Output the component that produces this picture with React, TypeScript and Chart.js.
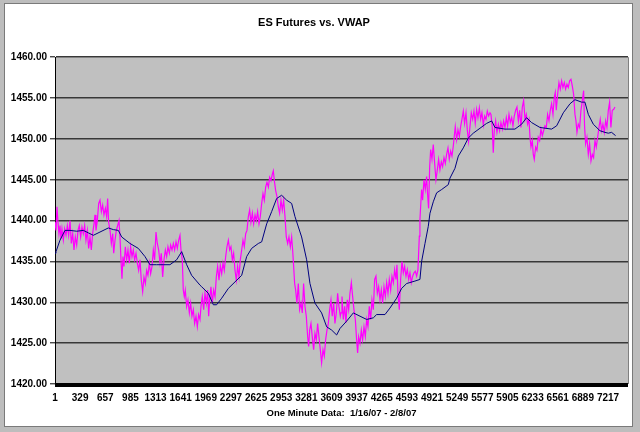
import React, { useEffect, useRef } from "react";
import { Chart, registerables } from "chart.js";

Chart.register(...registerables);

const chartTitle = "ES Futures vs. VWAP";
const xAxisTitle = "One Minute Data:  1/16/07 - 2/8/07";

// x tick labels (minute index)
const xTickValues = [1, 329, 657, 985, 1313, 1641, 1969, 2297, 2625, 2953, 3281, 3609, 3937, 4265, 4593, 4921, 5249, 5577, 5905, 6233, 6561, 6889, 7217];
const xMin = 1;
const xMax = 7478;
const yMin = 1420;
const yMax = 1460;
const yStep = 5;

// ES futures price: [minute, price]
const esFutures: [number, number][] = [
  [1, 1439.8], [14, 1438.8], [27, 1441.7], [40, 1439.8], [53, 1438.4], [66, 1439.4], [79, 1437.8], [92, 1439.0],
  [110, 1437.6], [127, 1439.0], [145, 1438.2], [162, 1439.4], [179, 1438.2], [197, 1440.0], [214, 1437.2],
  [232, 1438.4], [249, 1436.4], [266, 1438.0], [284, 1437.0], [301, 1438.8], [318, 1439.4], [336, 1438.0],
  [353, 1439.2], [371, 1438.4], [388, 1439.4], [405, 1437.6], [423, 1438.8], [440, 1436.6], [458, 1438.0],
  [475, 1436.4], [492, 1438.4], [510, 1439.6], [523, 1440.7], [536, 1438.8], [553, 1440.0], [571, 1442.1],
  [588, 1442.5], [606, 1441.1], [623, 1441.9], [640, 1440.7], [658, 1441.5], [675, 1440.5], [688, 1442.7],
  [701, 1439.8], [719, 1438.8], [736, 1437.2], [754, 1438.4], [767, 1436.0], [784, 1437.6], [801, 1438.8],
  [819, 1439.4], [836, 1440.0], [849, 1438.0], [862, 1435.2], [875, 1432.9], [888, 1435.6], [901, 1434.4],
  [919, 1436.8], [936, 1435.2], [953, 1436.4], [971, 1434.8], [988, 1436.8], [1006, 1435.6], [1023, 1436.4],
  [1040, 1435.2], [1058, 1436.0], [1075, 1434.8], [1093, 1433.9], [1110, 1435.2], [1127, 1432.7], [1145, 1431.3],
  [1162, 1433.1], [1180, 1432.3], [1197, 1433.9], [1214, 1433.3], [1232, 1434.8], [1249, 1433.5], [1267, 1434.4],
  [1284, 1436.4], [1301, 1435.2], [1319, 1438.6], [1336, 1437.2], [1354, 1436.4], [1371, 1434.8], [1388, 1436.0],
  [1406, 1433.1], [1423, 1435.2], [1441, 1436.4], [1458, 1435.6], [1475, 1436.8], [1493, 1436.0], [1510, 1437.0],
  [1528, 1436.4], [1545, 1437.2], [1562, 1436.4], [1580, 1437.4], [1597, 1436.6], [1615, 1437.6], [1632, 1438.2],
  [1645, 1436.4], [1662, 1435.2], [1675, 1431.5], [1688, 1430.7], [1701, 1431.5], [1719, 1429.5], [1736, 1430.3],
  [1754, 1428.7], [1771, 1429.9], [1788, 1428.3], [1806, 1429.1], [1823, 1427.4], [1841, 1428.3], [1858, 1427.0],
  [1875, 1428.5], [1893, 1427.9],
  [1906, 1429.5], [1923, 1430.7], [1941, 1429.1], [1958, 1431.1], [1976, 1429.9], [1993, 1431.5], [2006, 1428.3],
  [2019, 1430.3], [2036, 1431.9], [2054, 1429.9], [2071, 1431.5], [2089, 1430.7], [2106, 1433.1], [2123, 1434.4],
  [2141, 1432.7], [2158, 1434.5], [2176, 1433.5], [2193, 1434.8], [2210, 1433.9], [2228, 1435.6], [2245, 1436.8],
  [2263, 1437.6], [2280, 1436.4], [2297, 1436.8], [2315, 1435.2], [2332, 1436.0], [2350, 1433.9], [2367, 1432.7],
  [2384, 1434.4], [2402, 1433.1], [2419, 1435.2], [2437, 1436.4], [2454, 1437.6], [2471, 1436.8], [2489, 1438.4],
  [2506, 1438.8], [2524, 1440.5], [2541, 1441.3], [2558, 1439.8], [2576, 1440.9], [2593, 1439.6], [2611, 1440.7],
  [2628, 1440.0], [2645, 1441.1], [2663, 1439.6], [2680, 1440.5], [2698, 1442.1], [2715, 1443.3], [2732, 1442.5],
  [2750, 1444.1], [2767, 1444.7], [2785, 1444.1], [2802, 1445.3], [2819, 1444.9], [2837, 1445.7], [2850, 1446.1],
  [2863, 1444.9], [2880, 1443.7], [2898, 1442.9], [2915, 1441.7], [2932, 1440.9], [2950, 1442.5], [2967, 1441.3],
  [2985, 1442.5], [3002, 1440.5], [3019, 1438.0], [3037, 1437.2], [3054, 1438.0], [3072, 1436.8], [3089, 1438.0],
  [3102, 1436.4], [3115, 1434.4], [3128, 1432.3], [3141, 1431.5], [3158, 1429.9], [3176, 1432.3], [3193, 1429.1],
  [3211, 1429.9], [3228, 1428.7], [3245, 1432.3], [3263, 1429.5], [3280, 1428.3], [3298, 1425.8], [3311, 1424.6],
  [3324, 1426.6], [3341, 1427.4], [3358, 1425.8], [3376, 1424.2], [3393, 1426.2], [3411, 1425.4], [3428, 1427.4],
  [3445, 1425.8], [3463, 1424.2], [3480, 1422.6], [3498, 1424.2], [3515, 1423.4], [3532, 1425.4], [3550, 1426.6],
  [3567, 1427.4], [3585, 1429.1], [3602, 1430.3], [3619, 1428.3], [3637, 1429.9], [3654, 1427.4], [3672, 1428.7],
  [3689, 1431.1], [3706, 1429.5], [3724, 1428.3],
  [3733, 1428.7], [3746, 1430.7], [3763, 1427.9], [3781, 1429.5], [3798, 1427.5], [3815, 1430.3], [3833, 1429.1],
  [3850, 1431.1], [3868, 1432.4], [3885, 1430.7], [3902, 1429.1], [3920, 1427.9], [3937, 1425.4], [3950, 1423.8],
  [3963, 1425.8], [3981, 1425.0], [3998, 1426.6], [4015, 1425.4], [4033, 1427.0], [4050, 1425.8], [4068, 1427.9],
  [4085, 1427.0], [4102, 1429.5], [4120, 1427.9], [4137, 1430.3], [4155, 1429.1], [4172, 1432.8], [4189, 1433.2],
  [4207, 1431.1], [4224, 1431.9], [4242, 1430.3], [4259, 1431.5], [4276, 1429.9], [4294, 1431.9], [4311, 1430.7],
  [4329, 1432.4], [4346, 1431.1], [4363, 1432.8], [4381, 1431.5], [4398, 1433.2], [4416, 1432.4], [4433, 1434.0],
  [4450, 1432.8], [4463, 1434.6], [4476, 1431.1], [4494, 1429.1], [4511, 1432.8], [4529, 1435.0], [4546, 1433.6],
  [4563, 1434.4], [4581, 1433.2], [4598, 1434.0], [4616, 1432.8], [4633, 1433.6], [4650, 1432.4], [4668, 1433.2],
  [4685, 1433.6], [4703, 1433.8], [4720, 1433.2], [4737, 1434.0], [4755, 1438.1], [4763, 1440.1], [4772, 1441.7],
  [4785, 1443.8], [4798, 1442.5], [4816, 1445.0], [4833, 1443.8], [4850, 1445.4], [4863, 1443.2], [4876, 1441.5],
  [4890, 1446.6], [4903, 1448.7], [4920, 1447.5], [4937, 1449.3], [4955, 1447.0], [4972, 1445.0], [4990, 1446.2],
  [5007, 1447.5], [5024, 1446.2], [5042, 1447.2], [5059, 1446.6], [5077, 1447.7], [5094, 1447.0], [5111, 1448.1],
  [5129, 1448.9], [5146, 1447.5], [5164, 1448.5], [5181, 1447.9], [5198, 1449.1], [5211, 1450.3], [5224, 1451.5],
  [5242, 1449.9], [5259, 1451.1], [5277, 1450.3], [5294, 1451.5], [5311, 1452.4], [5329, 1453.4], [5346, 1451.9],
  [5364, 1453.2], [5381, 1451.1], [5398, 1449.7], [5416, 1451.5], [5433, 1453.2], [5451, 1452.4], [5468, 1453.4],
  [5485, 1451.9], [5503, 1453.6], [5520, 1452.6], [5538, 1453.8], [5555, 1452.4], [5572, 1453.2], [5590, 1451.7],
  [5607, 1452.8], [5625, 1452.4], [5642, 1453.4], [5659, 1452.8], [5677, 1453.2],
  [5690, 1453.0], [5707, 1451.4], [5720, 1448.3], [5733, 1451.0], [5751, 1452.2], [5768, 1450.8], [5786, 1451.8],
  [5803, 1451.0], [5820, 1452.0], [5838, 1451.2], [5855, 1452.2], [5873, 1451.4], [5890, 1452.6], [5907, 1451.6],
  [5925, 1453.0], [5942, 1452.0], [5960, 1452.6], [5977, 1451.6], [5994, 1452.8], [6012, 1453.5], [6029, 1453.9],
  [6047, 1452.2], [6064, 1453.5], [6081, 1451.4], [6099, 1453.9], [6116, 1454.7], [6134, 1452.4], [6151, 1453.0],
  [6168, 1451.8], [6186, 1452.4], [6199, 1450.2], [6212, 1449.0], [6229, 1449.8], [6242, 1448.1], [6255, 1447.5],
  [6273, 1449.0], [6290, 1448.6], [6307, 1450.2], [6325, 1449.8], [6342, 1451.2], [6360, 1450.4], [6377, 1451.0],
  [6394, 1451.6], [6412, 1451.4], [6429, 1453.0], [6447, 1452.2], [6464, 1453.5], [6481, 1454.3], [6499, 1453.0],
  [6516, 1455.1], [6529, 1455.7], [6542, 1453.5], [6560, 1455.5], [6577, 1456.9], [6594, 1456.1], [6612, 1457.1],
  [6629, 1456.3], [6647, 1456.9], [6664, 1456.1], [6681, 1456.7], [6699, 1456.3], [6716, 1457.1], [6734, 1457.3],
  [6751, 1456.5], [6768, 1455.5], [6786, 1453.0], [6799, 1452.2], [6812, 1450.8], [6829, 1451.8], [6847, 1451.4],
  [6864, 1453.5], [6882, 1454.7], [6899, 1455.9], [6912, 1451.4], [6925, 1449.4], [6942, 1450.2], [6960, 1448.1],
  [6977, 1449.4], [6995, 1447.3], [7012, 1448.1], [7029, 1447.7], [7047, 1449.8], [7064, 1449.0], [7082, 1450.2],
  [7099, 1451.4], [7116, 1452.4], [7134, 1451.0], [7151, 1451.8], [7169, 1450.8], [7186, 1452.2], [7203, 1451.4],
  [7221, 1453.5], [7238, 1454.5], [7255, 1451.4], [7273, 1453.5], [7290, 1453.6], [7308, 1453.9],
];

// VWAP: [minute, price]
const vwap: [number, number][] = [
  [1, 1436.0], [14, 1436.2], [66, 1437.6], [131, 1438.8], [197, 1438.8], [284, 1438.7], [371, 1438.8], [436, 1438.5],
  [501, 1438.2], [588, 1438.6], [697, 1439.1], [762, 1438.9], [827, 1438.8], [871, 1438.0], [980, 1437.2],
  [1088, 1436.6], [1175, 1435.6], [1240, 1434.6], [1327, 1434.6], [1414, 1434.6], [1501, 1434.6], [1588, 1435.2],
  [1654, 1436.2], [1719, 1434.6], [1784, 1433.3], [1893, 1432.1], [1915, 1431.9], [2002, 1431.1], [2067, 1429.7],
  [2110, 1429.7], [2176, 1430.5], [2263, 1431.7], [2350, 1432.5], [2437, 1433.3], [2502, 1435.6], [2567, 1436.6],
  [2654, 1437.2], [2698, 1437.4], [2763, 1439.6], [2828, 1441.1], [2893, 1442.7], [2958, 1443.1], [3024, 1442.5],
  [3089, 1442.1], [3132, 1440.5], [3219, 1438.0], [3285, 1435.2], [3328, 1432.3], [3393, 1429.9], [3480, 1428.7],
  [3546, 1427.0], [3611, 1426.6], [3676, 1426.0], [3720, 1426.8], [3807, 1427.7], [3894, 1428.7], [3981, 1428.3],
  [4068, 1427.9], [4155, 1428.1], [4198, 1428.5], [4307, 1428.5], [4372, 1429.3], [4459, 1430.5], [4524, 1431.7],
  [4590, 1432.3], [4698, 1432.6], [4763, 1432.8], [4785, 1435.0], [4829, 1437.2], [4872, 1439.3], [4894, 1440.9],
  [4937, 1442.3], [4981, 1443.4], [5046, 1443.8], [5133, 1444.4], [5155, 1445.2], [5220, 1446.4], [5264, 1447.9],
  [5329, 1448.9], [5394, 1450.1], [5459, 1450.7], [5546, 1451.3], [5633, 1451.9], [5699, 1452.2], [5742, 1451.4],
  [5873, 1451.2], [6003, 1451.2], [6090, 1451.8], [6155, 1452.6], [6220, 1452.0], [6329, 1451.4], [6481, 1451.2],
  [6547, 1451.6], [6634, 1453.2], [6721, 1454.3], [6786, 1454.8], [6873, 1454.5], [6916, 1454.5], [6960, 1453.0],
  [7025, 1451.8], [7112, 1451.0], [7177, 1450.8], [7221, 1450.7], [7264, 1450.8], [7316, 1450.4],
];

const FONT = "'Liberation Sans', Arial, Helvetica, sans-serif";

const framePlugin = {
  id: "frame",
  beforeDraw(chart: any) {
    const { ctx, width, height, chartArea } = chart;
    ctx.save();
    ctx.fillStyle = "#bdbdbd";
    ctx.fillRect(0, 0, width, height);
    ctx.fillStyle = "#ffffff";
    ctx.fillRect(5, 4, width - 13, height - 10);
    ctx.strokeStyle = "#7a7a7a";
    ctx.lineWidth = 1;
    ctx.strokeRect(4.5, 3.5, width - 12, height - 9);
    ctx.fillStyle = "#c0c0c0";
    ctx.fillRect(chartArea.left, chartArea.top, chartArea.right - chartArea.left, chartArea.bottom - chartArea.top);
    ctx.restore();
  },
  afterDraw(chart: any) {
    const { ctx, chartArea } = chart;
    ctx.save();
    ctx.fillStyle = "#000000";
    ctx.fillRect(chartArea.left, chartArea.bottom - 1, chartArea.right - chartArea.left, 4);
    ctx.strokeStyle = "#808080";
    ctx.lineWidth = 1;
    ctx.beginPath();
    ctx.moveTo(chartArea.right + 0.5, chartArea.top);
    ctx.lineTo(chartArea.right + 0.5, chartArea.bottom);
    ctx.stroke();
    ctx.restore();
  },
};

export default function App() {
  const ref = useRef<HTMLCanvasElement | null>(null);

  useEffect(() => {
    if (!ref.current) return;
    const chart = new Chart(ref.current, {
      type: "line",
      data: {
        datasets: [
          {
            label: "VWAP",
            data: vwap.map(([x, y]) => ({ x, y })),
            borderColor: "#000080",
            borderWidth: 1,
            pointRadius: 0,
            tension: 0,
            fill: false,
          },
          {
            label: "ES Futures",
            data: esFutures.map(([x, y]) => ({ x, y })),
            borderColor: "#ff00ff",
            borderWidth: 1.2,
            pointRadius: 0,
            tension: 0,
            fill: false,
          },
        ],
      },
      options: {
        animation: false,
        responsive: false,
        devicePixelRatio: 1,
        layout: { padding: { left: 0, right: 12, top: 0, bottom: 0 } },
        plugins: {
          legend: { display: false },
          tooltip: { enabled: false },
          title: {
            display: true,
            text: chartTitle,
            color: "#000",
            font: { family: FONT, size: 11, weight: "bold" },
            padding: { top: 16, bottom: 28 },
          },
        },
        scales: {
          x: {
            type: "linear",
            min: xMin,
            max: xMax,
            grid: { display: false, drawTicks: false, tickLength: 0 },
            border: { display: false },
            afterBuildTicks: (axis: any) => {
              axis.ticks = xTickValues.map((v) => ({ value: v }));
            },
            afterFit: (axis: any) => {
              axis.height = 48;
            },
            ticks: {
              autoSkip: false,
              maxRotation: 0,
              minRotation: 0,
              padding: 8,
              color: "#000",
              font: { family: FONT, size: 10, weight: "bold" },
              callback: (v: any) => String(v),
            },
            title: {
              display: true,
              text: xAxisTitle,
              color: "#000",
              font: { family: FONT, size: 9.5, weight: "bold" },
              padding: { top: 0, bottom: 13 },
            },
          },
          y: {
            type: "linear",
            min: yMin,
            max: yMax,
            afterFit: (axis: any) => {
              axis.width = 55;
            },
            grid: {
              color: "#383838",
              lineWidth: 1.6,
              drawTicks: true,
              tickLength: 5,
              tickColor: "#000",
              tickWidth: 1,
            },
            border: { display: true, color: "#000", width: 1 },
            ticks: {
              stepSize: yStep,
              padding: 3,
              color: "#000",
              font: { family: FONT, size: 10, weight: "bold" },
              callback: (v: any) => Number(v).toFixed(2),
            },
          },
        },
      },
      plugins: [framePlugin],
    });
    return () => chart.destroy();
  }, []);

  return (
    <div style={{ position: "fixed", left: 0, top: 0, width: 640, height: 432 }}>
      <canvas ref={ref} width={640} height={432} />
    </div>
  );
}
